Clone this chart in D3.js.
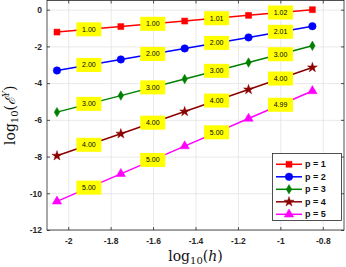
<!DOCTYPE html>
<html>
<head>
<meta charset="utf-8">
<script src="https://cdn.jsdelivr.net/npm/d3@7"></script>
<style>
  body { margin: 0; background: #fff; }
  svg { display: block; font-family: "Liberation Sans", Arial, sans-serif; }
</style>
</head>
<body>
<svg id="chart" width="346" height="267"></svg>
<script>
// log10(h) for each refinement level
const logH = [-2.053, -1.752, -1.451, -1.150, -0.849];

// log10 of error for each polynomial order
const errP1 = [-1.22, -0.92, -0.62, -0.31, 0.0];
const errP2 = [-3.31, -2.71, -2.11, -1.51, -0.90];
const errP3 = [-5.58, -4.68, -3.78, -2.88, -1.97];
const errP4 = [-7.96, -6.76, -5.55, -4.35, -3.15];
const errP5 = [-10.44, -8.94, -7.43, -5.93, -4.43];

// convergence rates written on each segment
const rateP1 = ["1.00", "1.00", "1.01", "1.02"];
const rateP2 = ["2.00", "2.00", "2.00", "2.01"];
const rateP3 = ["3.00", "3.00", "3.00", "3.00"];
const rateP4 = ["4.00", "4.00", "4.00", "4.00"];
const rateP5 = ["5.00", "5.00", "5.00", "4.99"];

const seriesNames = ["p = 1", "p = 2", "p = 3", "p = 4", "p = 5"];
const xTicks = [-2, -1.8, -1.6, -1.4, -1.2, -1, -0.8];
const yTicks = [0, -2, -4, -6, -8, -10, -12];

const series = [
  { name: seriesNames[0], values: errP1, rates: rateP1, color: "#ff0000", symbol: d3.symbolSquare, size: 36 },
  { name: seriesNames[1], values: errP2, rates: rateP2, color: "#0000ff", symbol: d3.symbolCircle, size: 44 },
  { name: seriesNames[2], values: errP3, rates: rateP3, color: "#008000", symbol: d3.symbolDiamond, size: 26 },
  { name: seriesNames[3], values: errP4, rates: rateP4, color: "#8b0000", symbol: d3.symbolStar, size: 30 },
  { name: seriesNames[4], values: errP5, rates: rateP5, color: "#ff00ff", symbol: d3.symbolTriangle, size: 38 },
];

const svg = d3.select("#chart");
const mLeft = 47, mRight = 344, mTop = 0.5, mBottom = 230;

const x = d3.scaleLinear().domain([-2.1, -0.7]).range([mLeft, mRight]);
const y = d3.scaleLinear().domain([-12, 0.5]).range([mBottom, mTop]);

// grid
svg.append("g")
  .attr("transform", `translate(0,${mBottom})`)
  .call(d3.axisBottom(x).tickValues(xTicks).tickSize(-(mBottom - mTop)).tickFormat(""))
  .call((g) => g.select(".domain").remove())
  .call((g) => g.selectAll("line").attr("stroke", "#e3e3e3").attr("stroke-width", 0.8));

svg.append("g")
  .attr("transform", `translate(${mLeft},0)`)
  .call(d3.axisLeft(y).tickValues(yTicks).tickSize(-(mRight - mLeft)).tickFormat(""))
  .call((g) => g.select(".domain").remove())
  .call((g) => g.selectAll("line").attr("stroke", "#e3e3e3").attr("stroke-width", 0.8));

// axes with inward ticks
const axisColor = "#262626";
const styleAxis = (g) => {
  g.select(".domain").remove();
  g.selectAll("line").attr("stroke", axisColor).attr("stroke-width", 0.8);
  g.selectAll("text")
    .attr("fill", axisColor)
    .attr("font-size", 8.5)
    .attr("font-weight", "bold")
    .attr("font-family", "Liberation Sans, Arial, sans-serif");
};

svg.append("g")
  .attr("transform", `translate(0,${mBottom})`)
  .call(d3.axisBottom(x).tickValues(xTicks).tickSizeInner(-3).tickSizeOuter(0).tickPadding(8).tickFormat((d) => `${d}`))
  .call(styleAxis);

svg.append("g")
  .attr("transform", `translate(0,${mTop})`)
  .call(d3.axisTop(x).tickValues(xTicks).tickSizeInner(-3).tickSizeOuter(0).tickFormat(""))
  .call(styleAxis);

svg.append("g")
  .attr("transform", `translate(${mLeft},0)`)
  .call(d3.axisLeft(y).tickValues(yTicks).tickSizeInner(-3).tickSizeOuter(0).tickPadding(5).tickFormat((d) => `${d}`))
  .call(styleAxis);

svg.append("g")
  .attr("transform", `translate(${mRight},0)`)
  .call(d3.axisRight(y).tickValues(yTicks).tickSizeInner(-3).tickSizeOuter(0).tickFormat(""))
  .call(styleAxis);

svg.append("rect")
  .attr("x", mLeft).attr("y", mTop)
  .attr("width", mRight - mLeft).attr("height", mBottom - mTop)
  .attr("fill", "none").attr("stroke", axisColor).attr("stroke-width", 0.8);

// lines and markers
const line = d3.line().x((d, i) => x(logH[i])).y((d) => y(d));

for (const s of series) {
  svg.append("path")
    .attr("d", line(s.values))
    .attr("fill", "none")
    .attr("stroke", s.color)
    .attr("stroke-width", 1.5);

  svg.append("g")
    .selectAll("path")
    .data(s.values)
    .join("path")
    .attr("transform", (d, i) => `translate(${x(logH[i])},${y(d)})`)
    .attr("d", d3.symbol(s.symbol, s.size))
    .attr("fill", s.color)
    .attr("stroke", s.color)
    .attr("stroke-width", 0.5);
}

// rate labels at segment midpoints
for (const s of series) {
  const g = svg.append("g")
    .selectAll("g")
    .data(s.rates)
    .join("g")
    .attr("transform", (r, i) => {
      const mx = (x(logH[i]) + x(logH[i + 1])) / 2;
      const my = (y(s.values[i]) + y(s.values[i + 1])) / 2;
      return `translate(${mx},${my})`;
    });
  g.append("rect")
    .attr("x", -12.5).attr("y", -7)
    .attr("width", 25).attr("height", 14)
    .attr("fill", "#ffff00");
  g.append("text")
    .attr("text-anchor", "middle")
    .attr("dy", "0.35em")
    .attr("font-size", 7)
    .attr("fill", "#000")
    .text((r) => r);
}

// legend
const legend = svg.append("g");
legend.append("rect")
  .attr("x", 272.5).attr("y", 153.5)
  .attr("width", 69).attr("height", 67)
  .attr("fill", "#fff").attr("stroke", axisColor).attr("stroke-width", 0.8);

const entries = legend.selectAll("g.entry")
  .data(series)
  .join("g")
  .attr("class", "entry")
  .attr("transform", (s, i) => `translate(0,${164.3 + i * 12.5})`);

entries.append("line")
  .attr("x1", 276).attr("x2", 302)
  .attr("stroke", (s) => s.color).attr("stroke-width", 1.5);
entries.append("path")
  .attr("transform", "translate(289,0)")
  .attr("d", (s) => d3.symbol(s.symbol, s.size)())
  .attr("fill", (s) => s.color)
  .attr("stroke", (s) => s.color).attr("stroke-width", 0.5);
entries.append("text")
  .attr("x", 305).attr("dy", "0.35em")
  .attr("font-size", 9).attr("font-weight", "bold")
  .attr("fill", "#111")
  .text((s) => s.name);

// axis titles
const xt = svg.append("text")
  .attr("x", (mLeft + mRight) / 2).attr("y", 261)
  .attr("text-anchor", "middle")
  .attr("font-family", "DejaVu Serif, Liberation Serif, serif")
  .attr("font-size", 14)
  .attr("fill", "#111");
xt.append("tspan").text("log");
xt.append("tspan").attr("font-size", 10).attr("dy", 3).text("10");
xt.append("tspan").attr("dy", -3).text("(");
xt.append("tspan").attr("font-style", "italic").text("h");
xt.append("tspan").text(")");

const yt = svg.append("text")
  .attr("transform", `translate(15,${(mTop + mBottom) / 2}) rotate(-90)`)
  .attr("text-anchor", "middle")
  .attr("font-family", "DejaVu Serif, Liberation Serif, serif")
  .attr("font-size", 14)
  .attr("fill", "#111");
yt.append("tspan").text("log");
yt.append("tspan").attr("font-size", 10).attr("dy", 3).text("10");
yt.append("tspan").attr("dy", -3).text("(");
yt.append("tspan").attr("font-style", "italic").text("ℰ");
yt.append("tspan").attr("font-size", 9).attr("font-style", "italic").attr("dy", -6).text("Y");
yt.append("tspan").attr("dy", 6).text(")");
</script>
</body>
</html>
